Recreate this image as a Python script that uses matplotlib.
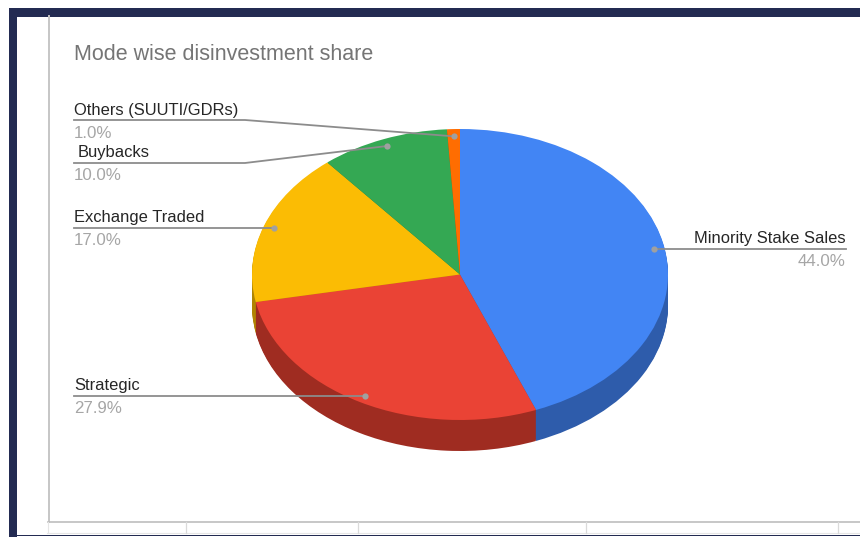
#!/usr/bin/env python3

import numpy as np
import matplotlib
matplotlib.use("Agg")
import matplotlib.pyplot as plot
from matplotlib.patches import Rectangle

plot.rcParams["font.family"] = ["Liberation Sans", "DejaVu Sans"]

title = "Mode wise disinvestment share"
categories = ["Minority Stake Sales", "Strategic", "Exchange Traded", "Buybacks", "Others (SUUTI/GDRs)"]
shares = [44.0, 27.9, 17.0, 10.0, 1.0]
colors = ["#4285F4", "#EA4335", "#FBBC04", "#34A853", "#FF6D01"]
sideColors = ["#2E5CAB", "#9F2C21", "#B08403", "#247538", "#B34C01"]

# pie geometry, in pixels
width, height = 860, 537
centerX, centerY = 460, 274.5
radiusX, radiusY = 208, 145.5
depth = 31

# label rows: x edge of the text, then y and bend of the rule for the angled ones
labelEdges = {
  "Others (SUUTI/GDRs)": 74,
  "Buybacks": 74,
  "Exchange Traded": 74,
  "Strategic": 74,
  "Minority Stake Sales": 846
}
angledRules = {
  "Others (SUUTI/GDRs)": (120, 245),
  "Buybacks": (163, 245)
}
labelOffsets = {"Buybacks": 4}
columnTicks = [186, 358, 586, 838]

# drawPie ######################################################################

def drawPie(figure):
  ax = figure.add_axes([0, 0, 1, 1])
  # the side of the disc is a stack of dark pies, the top face goes last
  for level in np.arange(depth, 0, -1):
    wedges, _ = ax.pie(shares, colors = sideColors, startangle = 90, counterclock = False,
                       center = (0, -level / radiusY))
    for wedge in wedges:
      wedge.set_linewidth(0)
  wedges, _ = ax.pie(shares, colors = colors, startangle = 90, counterclock = False)
  for wedge in wedges:
    wedge.set_linewidth(0)
  ax.set_aspect("auto")
  ax.set_xlim(-centerX / radiusX, (width - centerX) / radiusX)
  ax.set_ylim((centerY - height) / radiusY, centerY / radiusY)
  ax.axis("off")

################################################################################

# drawFrame ####################################################################

def drawFrame(ax):
  navy = "#232B52"
  ax.add_patch(Rectangle((9, 8), width - 9, 8.5, facecolor = navy, linewidth = 0))
  ax.add_patch(Rectangle((9, 8), 8, height - 8, facecolor = navy, linewidth = 0))
  ax.add_patch(Rectangle((9, 534.5), width - 9, 1.5, facecolor = navy, linewidth = 0))
  ax.plot([48.5, 48.5], [16, 522], color = "#C6C6C6", linewidth = 1.4)
  ax.plot([48, width], [522, 522], color = "#BDBDBD", linewidth = 1.2)
  ax.plot([47.5, 47.5], [522, 533], color = "#E6E6E6", linewidth = 0.8)
  ax.plot([47, width], [533, 533], color = "#E6E6E6", linewidth = 0.8)
  for tick in columnTicks:
    ax.plot([tick, tick], [522, 533], color = "#DADADA", linewidth = 0.9)

################################################################################

# drawLabels ###################################################################

def drawLabels(ax):
  ruleColor = "#8C8C8C"
  total = sum(shares)
  cumulative = 0
  for category, share in zip(categories, shares):
    angle = 2 * np.pi * (cumulative + share / 2) / total
    cumulative += share
    dotX = centerX + 0.95 * radiusX * np.sin(angle)
    dotY = centerY - 0.95 * radiusY * np.cos(angle)
    textX = labelEdges[category]
    if category in angledRules:
      ruleY, bendX = angledRules[category]
      ax.plot([textX, bendX, dotX], [ruleY, ruleY, dotY], color = ruleColor, linewidth = 1.3,
              solid_joinstyle = "round")
    else:
      ruleY = dotY
      ax.plot([textX, dotX], [ruleY, ruleY], color = ruleColor, linewidth = 1.3)
    ax.plot([dotX], [dotY], "o", color = "#A0A0A0", markersize = 4.5, markeredgewidth = 0)
    align = "right" if textX > centerX else "left"
    ax.text(textX + labelOffsets.get(category, 0), ruleY - 5.5, category, ha = align, va = "baseline",
            fontsize = 11.9, color = "#262626")
    ax.text(textX, ruleY + 17.5, "%.1f%%" % share, ha = align, va = "baseline",
            fontsize = 12.2, color = "#A6A6A6")

################################################################################

# main #########################################################################

def main():
  figure = plot.figure(figsize = (width / 100, height / 100), dpi = 100)
  figure.patch.set_facecolor("white")
  drawPie(figure)

  ax = figure.add_axes([0, 0, 1, 1])
  ax.set_xlim(0, width)
  ax.set_ylim(height, 0)
  ax.axis("off")
  drawFrame(ax)
  ax.text(74, 60, title, ha = "left", va = "baseline", fontsize = 15.5, color = "#757575")
  drawLabels(ax)

  plot.savefig("out.png", dpi = 100)
  plot.close()

################################################################################

if __name__ == "__main__":
  main()
